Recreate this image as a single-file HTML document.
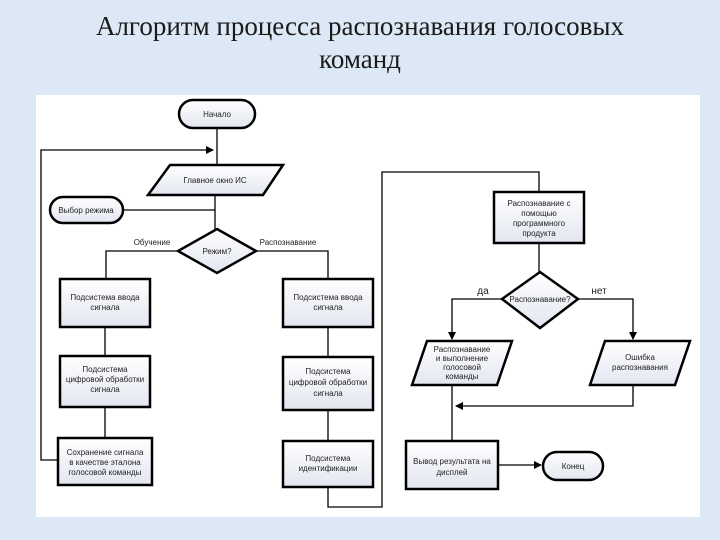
<!DOCTYPE html>
<html><head><meta charset="utf-8"><style>
body{margin:0;width:720px;height:540px;overflow:hidden;background:#dce8f5;}
.t{position:absolute;left:0;width:720px;text-align:center;font-family:"Liberation Serif",serif;font-size:27px;color:#1a1a1a;}
svg{position:absolute;left:0;top:0}
</style></head><body>
<div class="t" style="top:11px">Алгоритм процесса распознавания голосовых</div>
<div class="t" style="top:44px">команд</div>
<svg width="720" height="540" font-family="Liberation Sans, sans-serif" font-size="8" fill="#222">
<defs>
<linearGradient id="g" x1="0" y1="0" x2="0" y2="1"><stop offset="0" stop-color="#fff"/><stop offset="1" stop-color="#e2e6f0"/></linearGradient>
<marker id="a" markerWidth="8" markerHeight="8" refX="7" refY="4" orient="auto" markerUnits="userSpaceOnUse"><path d="M0,0L8,4L0,8z" fill="#000"/></marker>
</defs>
<rect x="36" y="95" width="664" height="422" fill="#fff"/>
<g stroke="#000" stroke-width="1.3" fill="none">
<path d="M217,128V165"/>
<path d="M58,460H41V150H213" marker-end="url(#a)"/>
<path d="M215,195V229"/>
<path d="M123,210H215"/>
<path d="M178,251H106V279"/>
<path d="M256,251H328V279"/>
<path d="M105,327V356M105,407V438"/>
<path d="M328,327V357M328,410V441"/>
<path d="M328,487V507H382V172H539V192"/>
<path d="M539,243V272"/>
<path d="M502,299H452V339" marker-end="url(#a)"/>
<path d="M578,299H633V339" marker-end="url(#a)"/>
<path d="M633,385V406H456" marker-end="url(#a)"/>
<path d="M452,385V441"/>
<path d="M498,465H541" marker-end="url(#a)"/>
</g>
<g stroke="#000" stroke-width="2.5" fill="url(#g)">
<rect x="179" y="100" width="76" height="28" rx="14"/>
<path d="M170,165H283L263,195H148Z"/>
<rect x="50" y="197" width="73" height="26" rx="13"/>
<path d="M217,229L256,251L217,273L178,251Z"/>
<rect x="60" y="279" width="90" height="48"/>
<rect x="60" y="356" width="90" height="51"/>
<rect x="58" y="438" width="94" height="47"/>
<rect x="283" y="279" width="90" height="48"/>
<rect x="283" y="357" width="90" height="53"/>
<rect x="283" y="441" width="90" height="46"/>
<rect x="494" y="192" width="90" height="51"/>
<path d="M540,272L578,299L540,328L502,299Z"/>
<path d="M427,341H512L497,385H412Z"/>
<path d="M605,341H690L675,385H590Z"/>
<rect x="406" y="441" width="92" height="48"/>
<rect x="543" y="452" width="60" height="28" rx="14"/>
</g>
<g text-anchor="middle">
<text x="217" y="117">Начало</text>
<text x="215" y="183">Главное окно ИС</text>
<text x="86" y="213">Выбор режима</text>
<text x="217" y="254">Режим?</text>
<text x="152" y="245">Обучение</text>
<text x="288" y="245">Распознавание</text>
<text x="105" y="300">Подсистема ввода</text><text x="105" y="310">сигнала</text>
<text x="105" y="372">Подсистема</text><text x="105" y="382">цифровой обработки</text><text x="105" y="392">сигнала</text>
<text x="105" y="455">Сохранение сигнала</text><text x="105" y="465">в качестве эталона</text><text x="105" y="475">голосовой команды</text>
<text x="328" y="300">Подсистема ввода</text><text x="328" y="310">сигнала</text>
<text x="328" y="374">Подсистема</text><text x="328" y="385">цифровой обработки</text><text x="328" y="396">сигнала</text>
<text x="328" y="461">Подсистема</text><text x="328" y="471">идентификации</text>
<text x="539" y="206">Распознавание с</text><text x="539" y="216">помощью</text><text x="539" y="226">программного</text><text x="539" y="236">продукта</text>
<text x="540" y="302">Распознавание?</text>
<text x="483" y="294" font-size="10">да</text>
<text x="599" y="294" font-size="10">нет</text>
<text x="462" y="352">Распознавание</text><text x="462" y="361">и выполнение</text><text x="462" y="370">голосовой</text><text x="462" y="379">команды</text>
<text x="640" y="360">Ошибка</text><text x="640" y="370">распознавания</text>
<text x="452" y="464">Вывод результата на</text><text x="452" y="475">дисплей</text>
<text x="573" y="469">Конец</text>
</g>
</svg>
</body></html>
